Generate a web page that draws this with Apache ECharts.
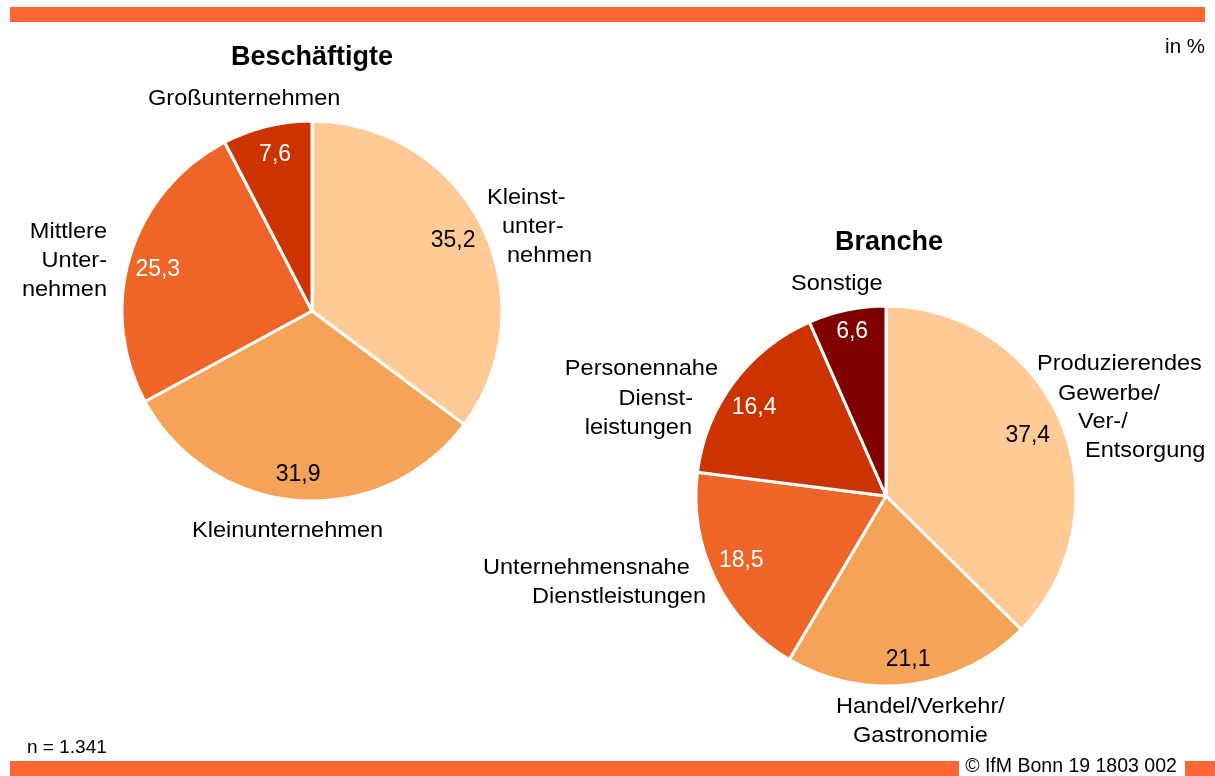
<!DOCTYPE html>
<html>
<head>
<meta charset="utf-8">
<script src="https://cdn.jsdelivr.net/npm/echarts@6/dist/echarts.min.js"></script>
<style>
  html, body { margin: 0; padding: 0; background: #fff; }
  #chart { width: 1215px; height: 776px; }
</style>
</head>
<body>
<div id="chart"></div>
<script>
// Beschäftigte
const groesseNamen = ['Kleinstunternehmen', 'Kleinunternehmen', 'Mittlere Unternehmen', 'Großunternehmen']
const groesseWerte = [35.2, 31.9, 25.3, 7.6]
const groesseFarben = ['#FFCA95', '#F4A358', '#EF6527', '#CC3300']
const groesseLabelFarben = ['#000', '#000', '#fff', '#fff']

// Branche
const brancheNamen = ['Produzierendes Gewerbe/Ver-/Entsorgung', 'Handel/Verkehr/Gastronomie', 'Unternehmensnahe Dienstleistungen', 'Personennahe Dienstleistungen', 'Sonstige']
const brancheWerte = [37.4, 21.1, 18.5, 16.4, 6.6]
const brancheFarben = ['#FFCA95', '#F4A358', '#EF6527', '#CC3300', '#800000']
const brancheLabelFarben = ['#000', '#000', '#fff', '#fff', '#fff']

// kleine Korrekturen der Wertepositionen (px)
const groesseVersatz = [[-6, 3], [-2, 0], [3, 7], [2, 3]]
const brancheVersatz = [[-10, 3], [1, 1], [3, -8], [0, 10], [0, -3]]

const FONT = '"Liberation Sans", Arial, sans-serif'
const R = 190

// Kategorie-Beschriftungen außerhalb der Torten (Zeile, x, y, Ausrichtung)
const beschriftungen = [
  ['Großunternehmen', 148, 99, 'left'],
  ['Kleinst-', 487, 198, 'left'],
  ['unter-', 502, 227, 'left'],
  ['nehmen', 507, 256, 'left'],
  ['Mittlere', 107, 232, 'right'],
  ['Unter-', 107, 261, 'right'],
  ['nehmen', 107, 290, 'right'],
  ['Kleinunternehmen', 192, 531, 'left'],
  ['Sonstige', 791, 284, 'left'],
  ['Personennahe', 718, 369, 'right'],
  ['Dienst-', 693, 399, 'right'],
  ['leistungen', 692, 428, 'right'],
  ['Produzierendes', 1037, 364, 'left'],
  ['Gewerbe/', 1058, 394, 'left'],
  ['Ver-/', 1078, 422, 'left'],
  ['Entsorgung', 1085, 451, 'left'],
  ['Unternehmensnahe', 483, 568, 'left'],
  ['Dienstleistungen', 532, 597, 'left'],
  ['Handel/Verkehr/', 836, 707, 'left'],
  ['Gastronomie', 853, 736, 'left']
]

let myChart = echarts.init(document.getElementById('chart'))

function tortenDaten(namen, werte, farben) {
  return werte.map((v, i) => ({ name: namen[i], value: v, itemStyle: { color: farben[i] } }))
}

function wertLabels(namen, werte, labelFarben, versatz) {
  return werte.map((v, i) => ({
    name: namen[i], value: v,
    label: { color: labelFarben[i], offset: versatz[i] }
  }))
}

function torte(center, namen, werte, farben) {
  return {
    type: 'pie',
    center: center,
    radius: [0, R],
    startAngle: 90,
    clockwise: true,
    silent: true,
    animation: false,
    label: { show: false },
    labelLine: { show: false },
    itemStyle: { borderColor: '#fff', borderWidth: 3 },
    data: tortenDaten(namen, werte, farben)
  }
}

// unsichtbarer Ring, damit die Werte bei ca. 0,85 r sitzen
function werteRing(center, namen, werte, labelFarben, versatz) {
  return {
    type: 'pie',
    center: center,
    radius: [R * 0.7, R],
    startAngle: 90,
    clockwise: true,
    silent: true,
    animation: false,
    itemStyle: { color: 'rgba(0,0,0,0)' },
    labelLine: { show: false },
    label: {
      show: true,
      position: 'inside',
      fontFamily: FONT,
      fontSize: 23,
      formatter: p => p.value.toFixed(1).replace('.', ',')
    },
    data: wertLabels(namen, werte, labelFarben, versatz)
  }
}

const texte = beschriftungen.map(b => ({
  type: 'text',
  x: b[1], y: b[2],
  scaleX: 1.07,
  style: {
    text: b[0], fill: '#000', font: '22px ' + FONT,
    textAlign: b[3], textVerticalAlign: 'middle'
  }
}))

myChart.setOption({
  backgroundColor: '#fff',
  title: [
    { text: 'Beschäftigte', left: 307, top: 39, textAlign: 'center',
      textStyle: { fontFamily: FONT, fontSize: 27, fontWeight: 'bold', color: '#000' } },
    { text: 'Branche', left: 884, top: 224, textAlign: 'center',
      textStyle: { fontFamily: FONT, fontSize: 27, fontWeight: 'bold', color: '#000' } }
  ],
  graphic: [
    { type: 'rect', shape: { x: 10, y: 7, width: 1195, height: 15 }, style: { fill: '#FF6633' } },
    { type: 'rect', shape: { x: 10, y: 761, width: 1205, height: 15 }, style: { fill: '#FF6633' } },
    { type: 'rect', shape: { x: 959, y: 758, width: 226, height: 18 }, style: { fill: '#fff' } },
    { type: 'text', x: 1071, y: 767, style: { text: '© IfM Bonn 19 1803 002', fill: '#000', font: '19.5px ' + FONT, textAlign: 'center', textVerticalAlign: 'middle' } },
    { type: 'text', x: 1205, y: 47, style: { text: 'in %', fill: '#000', font: '20.5px ' + FONT, textAlign: 'right', textVerticalAlign: 'middle' } },
    { type: 'text', x: 27, y: 748, style: { text: 'n = 1.341', fill: '#000', font: '19px ' + FONT, textAlign: 'left', textVerticalAlign: 'middle' } }
  ].concat(texte),
  series: [
    torte([312, 311], groesseNamen, groesseWerte, groesseFarben),
    werteRing([312, 311], groesseNamen, groesseWerte, groesseLabelFarben, groesseVersatz),
    torte([886, 496], brancheNamen, brancheWerte, brancheFarben),
    werteRing([886, 496], brancheNamen, brancheWerte, brancheLabelFarben, brancheVersatz)
  ]
})
</script>
</body>
</html>
